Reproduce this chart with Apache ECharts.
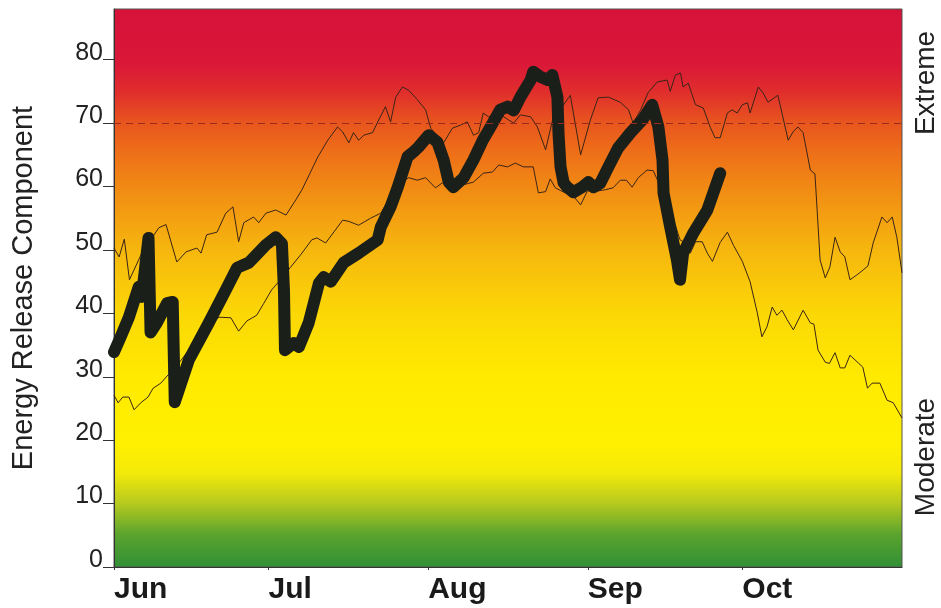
<!DOCTYPE html>
<html><head><meta charset="utf-8">
<script src="https://cdn.jsdelivr.net/npm/echarts@6/dist/echarts.min.js"></script>
<style>html,body{margin:0;padding:0;background:#fff}#c{width:941px;height:608px}</style>
</head><body><div id="c"></div>
<script>
// x = days since Jun 1 (Jun 1 = 0, Nov 1 = 153)
const monthTickDays = [0, 30, 61, 92, 122];
const monthLabels = ['Jun', 'Jul', 'Aug', 'Sep', 'Oct'];
const yTickValues = [0, 10, 20, 30, 40, 50, 60, 70, 80];
const extremeLine = 70;

// historical maximum ERC
const maxDay = [0,1,2,3,5.4,8.7,10.1,12.2,14,16.1,16.9,18,20,21.7,23.1,24.2,25.2,27.1,28.1,29.5,31.4,33.4,35.3,36.5,39.6,41.5,43.4,44.4,45.6,46.5,47.5,48.5,50.2,51.4,52.7,53.7,54.7,56,57.2,58.9,60.5,61.5,64,65.7,67.3,68.6,69.8,70.8,71.7,72.7,74.7,77.6,78.9,80.9,82.2,83.8,85.3,87.3,88.6,90.6,92.5,94,96,98.3,99.9,100.8,102.2,103.7,105.5,107.4,108,109,110,110.5,111.5,112.9,114.4,115.8,116.7,117.7,119.1,120,121,122,123,123.5,125.1,126,127,128.9,130.9,131.9,132.8,133.8,135.2,136.1,137.1,138.1,139,140,141,141.9,142.9,144.3,145.4,146.4,147.4,149.1,150.1,151.1,152,153];
const maxErc = [50.3,48.9,51.7,45.3,49.5,53.5,54,48.1,49.7,50.3,49.5,52.4,52.8,55.8,56.8,51.3,54.3,55.2,54.3,55.8,56.3,55.5,57.9,59.5,64.7,67.3,69.4,68.6,66.9,68.5,67.3,68.1,68.5,70.5,72.6,70.2,74.1,75.7,75.2,73.7,72.1,69.2,66.9,69.2,69.7,70.2,68.1,68.5,71.6,71,71.5,70,71.3,71,69.4,65.8,71,72.9,74.4,65,70.5,74,74.1,73.3,72.1,70,72,74.8,76.5,76.8,75,77.6,77.9,75.7,76.3,72.9,72.4,69.3,67.7,67.7,71.6,72.1,71.6,72.9,73.2,71.6,75.7,74.8,73.3,74.4,67.3,68.7,69.4,68.5,62.6,62,48.4,45.6,47.3,52,49.7,48.9,45.3,46.1,46.8,47.5,51.1,55.2,54.3,55.2,52,46.4];

// historical average ERC
const avgDay = [0,0.8,1.7,2.9,3.9,5.2,6.6,7.6,9.1,10.5,12,14.5,16.1,18.2,20.4,22.7,24.2,25.8,27.7,29.1,30.6,32,34.3,36.3,38.4,39.4,41.1,44.4,45.6,47.5,49.8,51.8,53.7,55.7,57.2,58.9,60.5,62.4,63.8,65.7,67.9,69.8,71.7,73.5,74.7,76.4,77.9,79.5,81.4,82.4,83.8,84.7,85.7,87.6,89.2,90.6,91.9,93.9,95.4,96.9,98.3,99.5,100.6,101.8,103.5,104.7,106.1,107.4,109.9,110.5,111.9,112.9,114.2,115.2,116.2,117.7,119.1,120.3,122,123.5,124.9,125.8,126.8,127.8,128.7,129.7,130.7,131.9,133.8,135.2,135.9,136.7,138.1,138.9,140,141,141.9,142.9,144.5,145.4,146.3,147.2,148.7,150.1,151.3,153];
const avgErc = [27.1,25.9,26.8,26.8,24.8,25.9,26.8,28.2,29,30.3,31.5,34.2,36.3,38,39.4,39.3,37.2,38.8,39.7,41.6,43.7,45,47.3,49.3,51.6,51.9,51.1,54.7,54.5,53.9,55,55.8,58.5,60.5,61.4,61,61.4,59.8,60.6,60,60.3,60.7,62.1,62.3,63.4,63.1,63.7,63.1,63.1,59,59.2,61.2,59.8,59,58.5,57.1,59.3,59.3,59.5,59.8,61,61,59.9,61.4,62.6,62.5,60,57.9,51.6,51.3,49.5,51.3,51.3,49.5,48.2,51.2,52.8,50.7,48.2,45,40.1,36.3,37.9,41,39.7,40.5,39,37.4,40.5,38.5,38.3,34.2,32.3,32.1,33.8,31.4,31.4,33.4,32.2,31.5,28.2,29,29,26.3,25.9,23.5];

// current season ERC
const curDay = [0,1.4,2.9,4.8,5.4,6.7,7.1,8.3,10.3,11.4,11.8,14.5,18.4,21.7,23.9,26.2,29.5,31.4,32.6,33,33.2,34.9,35.9,37.8,39.8,40.7,42.1,44.6,47.5,51.2,51.8,53.7,55.1,57,58.2,59.1,61.1,62.8,64,65,65.9,67.9,69.8,71.6,73.1,75,76.4,77.6,78.9,80.9,81.4,82.8,84.2,85.1,86.1,86.3,86.7,87.3,88,89.2,90.9,92.1,93.1,94.4,96,97.9,100.3,102.6,104.5,105.7,106.5,106.7,108,109.3,109.9,110.5,112.5,115.2,117.7];
const curErc = [33.9,36.5,39.4,44.2,42.6,51.9,37,38.5,41.6,41.8,26,32.6,38.5,43.7,47.2,48,50.8,52,51,43.7,34.2,35.3,34.7,38.5,44.8,45.7,45,48,49.5,51.6,53.6,56.8,59.9,64.7,65.5,66.2,68.1,67,64.2,60.7,59.9,61.4,64.2,67.3,69.4,72.1,72.6,72,74.1,76.8,78.1,77.3,76.8,77.6,74.1,68.5,63.1,60.6,59.9,59.1,59.9,60.7,59.9,60.5,63.1,66.1,68.5,70.5,72.9,69.4,64.2,59,53.6,48.4,45.3,49.5,52.7,56.3,62.1];

const zip = (a, b) => a.map((d, i) => [d, b[i]]);

const chart = echarts.init(document.getElementById('c'), null, {renderer: 'canvas'});
const font = 'Liberation Sans, Arial, sans-serif';

chart.setOption({
  backgroundColor: '#ffffff',
  animation: false,
  grid: {
    left: 114, right: 39, top: 9, bottom: 41,
    show: true,
    borderColor: '#555',
    borderWidth: 1,
    backgroundColor: {
      type: 'linear', x: 0, y: 0, x2: 0, y2: 1,
      colorStops: [
        {offset: 0.00, color: 'rgb(214,18,58)'},
        {offset: 0.10, color: 'rgb(218,24,56)'},
        {offset: 0.15, color: 'rgb(224,46,44)'},
        {offset: 0.205, color: 'rgb(232,86,30)'},
        {offset: 0.26, color: 'rgb(238,112,24)'},
        {offset: 0.32, color: 'rgb(241,138,20)'},
        {offset: 0.43, color: 'rgb(246,182,14)'},
        {offset: 0.545, color: 'rgb(251,215,6)'},
        {offset: 0.66, color: 'rgb(255,234,0)'},
        {offset: 0.78, color: 'rgb(255,240,0)'},
        {offset: 0.83, color: 'rgb(244,234,10)'},
        {offset: 0.885, color: 'rgb(182,202,30)'},
        {offset: 0.94, color: 'rgb(92,164,45)'},
        {offset: 1.00, color: 'rgb(48,143,54)'}
      ]
    }
  },
  xAxis: {
    type: 'value', min: 0, max: 153,
    axisLine: {show: true, lineStyle: {color: '#333', width: 1}},
    splitLine: {show: false},
    axisTick: {show: true, length: 3, customValues: monthTickDays, lineStyle: {color: '#333'}},
    axisLabel: {
      customValues: monthTickDays,
      formatter: v => monthLabels[monthTickDays.indexOf(v)] || '',
      align: 'left', margin: 8,
      fontFamily: font, fontWeight: 'bold', fontSize: 30, color: '#1a1a1a'
    }
  },
  yAxis: {
    type: 'value', min: 0, max: 88,
    name: 'Energy Release Component',
    nameLocation: 'middle', nameGap: 76,
    nameTextStyle: {fontFamily: font, fontSize: 29, color: '#222'},
    axisLine: {show: true, lineStyle: {color: '#333', width: 1}},
    splitLine: {show: false},
    axisTick: {show: true, length: 11, customValues: yTickValues, lineStyle: {color: '#333'}},
    axisLabel: {
      customValues: yTickValues,
      margin: 11, verticalAlign: 'bottom', lineHeight: 14,
      fontFamily: font, fontSize: 25, color: '#222'
    }
  },
  graphic: [
    {type: 'text', x: 926, y: 83, rotation: Math.PI / 2,
     style: {text: 'Extreme', font: '28px ' + font, fill: '#222', align: 'center', verticalAlign: 'middle'}},
    {type: 'text', x: 926, y: 457, rotation: Math.PI / 2,
     style: {text: 'Moderate', font: '28px ' + font, fill: '#222', align: 'center', verticalAlign: 'middle'}}
  ],
  series: [
    {
      type: 'line', name: 'Maximum', data: zip(maxDay, maxErc),
      showSymbol: false, symbol: 'none',
      lineStyle: {color: '#3a2418', width: 1}, z: 2,
      markLine: {
        silent: true, symbol: 'none', label: {show: false},
        lineStyle: {color: '#9b2a1c', type: [7, 5], width: 1},
        data: [{yAxis: extremeLine}]
      }
    },
    {
      type: 'line', name: 'Average', data: zip(avgDay, avgErc),
      showSymbol: false, symbol: 'none',
      lineStyle: {color: '#3a2418', width: 1}, z: 2
    },
    {
      type: 'line', name: 'Current', data: zip(curDay, curErc),
      showSymbol: false, symbol: 'none',
      lineStyle: {color: '#1b1f19', width: 12, cap: 'round', join: 'round'}, z: 3
    }
  ]
});
</script>
</body></html>
